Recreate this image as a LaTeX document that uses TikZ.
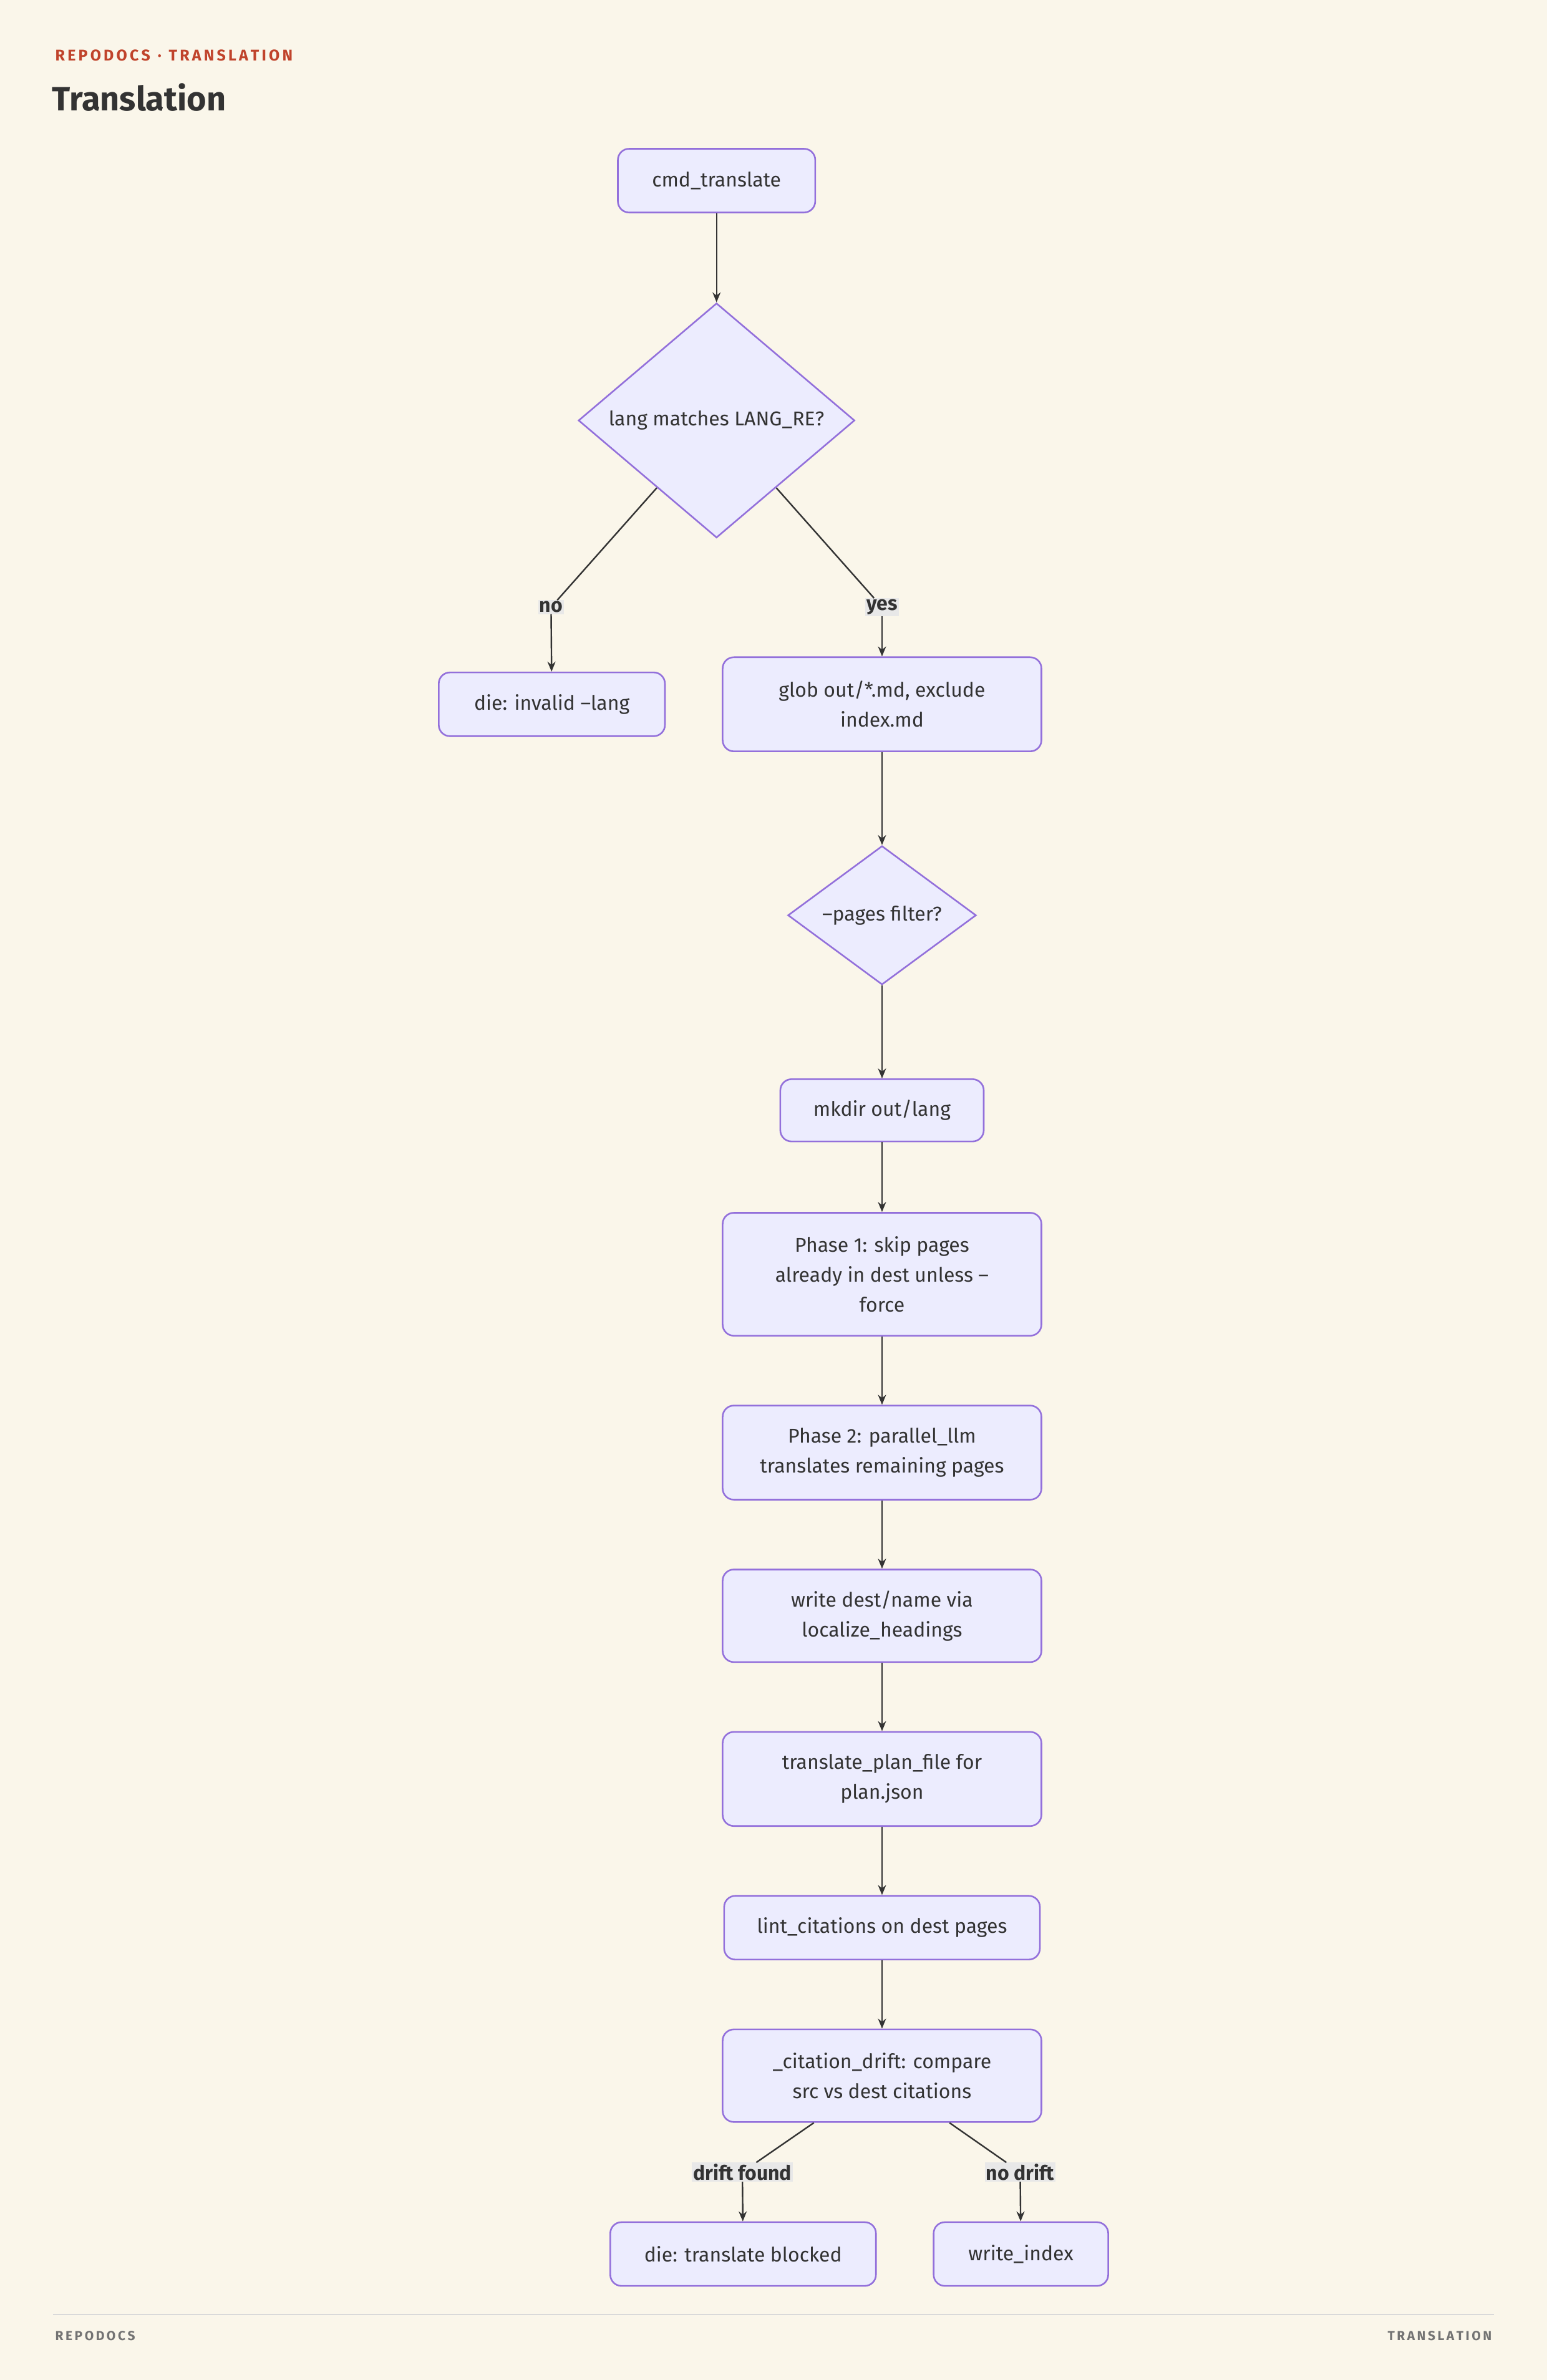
\documentclass[tikz,border=0pt]{standalone}
\usepackage{fontspec}
\setmainfont{Fira Sans}
\usetikzlibrary{shapes.geometric,arrows.meta}
\definecolor{bg}{HTML}{FAF6EA}
\definecolor{nf}{HTML}{ECECFE}
\definecolor{ns}{HTML}{9370DB}
\definecolor{ed}{HTML}{333333}
\definecolor{hd}{HTML}{C0432B}
\definecolor{lb}{HTML}{E8E8E8}
\begin{document}
\begin{tikzpicture}[x=2.4337pt,y=-2.4337pt,
  box/.style={draw=ns,fill=nf,line width=2.6pt,rounded corners=18pt,align=center,
    font=\fontsize{32}{48}\selectfont,text=ed,inner sep=0pt},
  dia/.style={draw=ns,fill=nf,line width=2.6pt,diamond,aspect=1,align=center,
    font=\fontsize{32}{48}\selectfont,text=ed,inner sep=0pt},
  lbl/.style={fill=lb,font=\bfseries\fontsize{32}{40}\selectfont,text=ed,inner sep=2pt},
  arr/.style={draw=ed,line width=2.4pt,-{Stealth[length=16pt,width=13pt]}},
  ln/.style={draw=ed,line width=2.4pt}]
\useasboundingbox[fill=bg] (0,0) rectangle (1019,1568);
\node[anchor=base west,text=hd,font=\bfseries\fontsize{25}{30}\selectfont] (hdr) at (35,40) {R\,E\,P\,O\,D\,O\,C\,S\ \ ·\ \ T\,R\,A\,N\,S\,L\,A\,T\,I\,O\,N};
\node[anchor=base west,text=ed,font=\bfseries\fontsize{54}{60}\selectfont] (ttl) at (33,73) {Translation};
\node[box,minimum width={130*2.4337pt},minimum height={42*2.4337pt}] (a) at (472,119) {cmd\_translate};
\node[dia,minimum width={182*2.4337pt}] (b) at (472,277) {lang matches LANG\_RE?};
\node[lbl] (no) at (363,400) {no};
\node[lbl] (yes) at (581,400) {yes};
\node[box,minimum width={149*2.4337pt},minimum height={42*2.4337pt}] (c) at (363.5,464) {die: invalid --lang};
\node[box,minimum width={210*2.4337pt},minimum height={62*2.4337pt}] (d) at (581,464) {glob out/*.md, exclude\\index.md};
\node[dia,minimum width={124*2.4337pt}] (e) at (581,603) {--pages filter?};
\node[box,minimum width={134*2.4337pt},minimum height={41*2.4337pt}] (f) at (581,731.5) {mkdir out/lang};
\node[box,minimum width={210*2.4337pt},minimum height={81*2.4337pt}] (g) at (581,839.5) {Phase 1: skip pages\\already in dest unless --\\force};
\node[box,minimum width={210*2.4337pt},minimum height={62*2.4337pt}] (h) at (581,957) {Phase 2: parallel\_llm\\translates remaining pages};
\node[box,minimum width={210*2.4337pt},minimum height={61*2.4337pt}] (i) at (581,1064.5) {write dest/name via\\localize\_headings};
\node[box,minimum width={210*2.4337pt},minimum height={62*2.4337pt}] (j) at (581,1172) {translate\_plan\_file for\\plan.json};
\node[box,minimum width={208*2.4337pt},minimum height={42*2.4337pt}] (k) at (581,1270) {lint\_citations on dest pages};
\node[box,minimum width={210*2.4337pt},minimum height={61*2.4337pt}] (l) at (581,1367.5) {\_citation\_drift: compare\\src vs dest citations};
\node[lbl] (df) at (489,1431) {drift found};
\node[lbl] (nd) at (672,1431) {no drift};
\node[box,minimum width={175*2.4337pt},minimum height={42*2.4337pt}] (m) at (489.5,1485) {die: translate blocked};
\node[box,minimum width={115*2.4337pt},minimum height={42*2.4337pt}] (n) at (672.5,1485) {write\_index};
\draw[arr] (a) -- (b);
\draw[ln] (b) -- (no); \draw[arr] (no) -- (c);
\draw[ln] (b) -- (yes); \draw[arr] (yes) -- (d);
\draw[arr] (d) -- (e);
\draw[arr] (e) -- (f);
\draw[arr] (f) -- (g);
\draw[arr] (g) -- (h);
\draw[arr] (h) -- (i);
\draw[arr] (i) -- (j);
\draw[arr] (j) -- (k);
\draw[arr] (k) -- (l);
\draw[ln] (l) -- (df); \draw[arr] (df) -- (m);
\draw[ln] (l) -- (nd); \draw[arr] (nd) -- (n);
\coordinate (fl) at (35,1525); \coordinate (fr) at (984,1525);
\draw[draw=black!15,line width=2pt] (fl) -- (fr);
\node[anchor=base west,text=black!55,font=\bfseries\fontsize{21}{25}\selectfont] (fa) at (35,1542) {R\,E\,P\,O\,D\,O\,C\,S};
\node[anchor=base east,text=black!55,font=\bfseries\fontsize{21}{25}\selectfont] (fb) at (984,1542) {T\,R\,A\,N\,S\,L\,A\,T\,I\,O\,N};
\end{tikzpicture}
\end{document}
